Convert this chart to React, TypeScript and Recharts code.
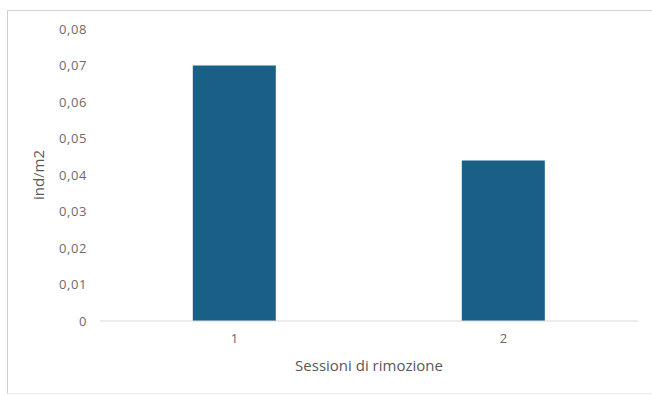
import React from 'react';
import { BarChart, Bar, XAxis, YAxis, Label } from 'recharts';

const sessions = ['1', '2'];
const density = [0.07, 0.044];
const yTicks = [0, 0.01, 0.02, 0.03, 0.04, 0.05, 0.06, 0.07, 0.08];

const data = sessions.map((s, i) => ({ session: s, value: density[i] }));

const fmt = (v: number) => (v === 0 ? '0' : v.toFixed(2).replace('.', ','));

const FONT = '"Open Sans", "Noto Sans", sans-serif';

export default function App() {
  return (
    <div style={{ position: 'absolute', left: 0, top: 0, width: 652, height: 396, background: '#fff' }}>
      <div
        style={{
          position: 'absolute',
          left: 7,
          top: 10,
          width: 660,
          height: 382,
          borderLeft: '1px solid #cfcfcf',
          borderTop: '1px solid #cfcfcf',
          borderBottom: '1px solid #ececec',
        }}
      />
      <BarChart
        width={652}
        height={396}
        data={data}
        margin={{ top: 29, right: 14, bottom: 45, left: 36 }}
        barCategoryGap="34.5%"
        style={{ position: 'absolute', left: 0, top: 0, fontFamily: FONT }}
      >
        <XAxis
          dataKey="session"
          axisLine={{ stroke: '#d9d9d9' }}
          tickLine={false}
          tickSize={0}
          tickMargin={13}
          tick={{ fill: '#666666', fontSize: 13 }}
        >
          <Label value="Sessioni di rimozione" position="bottom" offset={9} fill="#595959" fontSize={15} />
        </XAxis>
        <YAxis
          width={64}
          domain={[0, 0.08]}
          ticks={yTicks}
          tickFormatter={fmt}
          axisLine={false}
          tickLine={false}
          tickSize={0}
          tickMargin={13}
          tick={{ fill: '#6b6b6b', fontSize: 13, letterSpacing: 0.6 }}
        >
          <Label
            value="ind/m2"
            angle={-90}
            position="insideLeft"
            offset={3}
            fill="#595959"
            fontSize={15}
            style={{ textAnchor: 'middle' }}
          />
        </YAxis>
        <Bar dataKey="value" fill="#1a5f85" isAnimationActive={false} />
      </BarChart>
    </div>
  );
}
